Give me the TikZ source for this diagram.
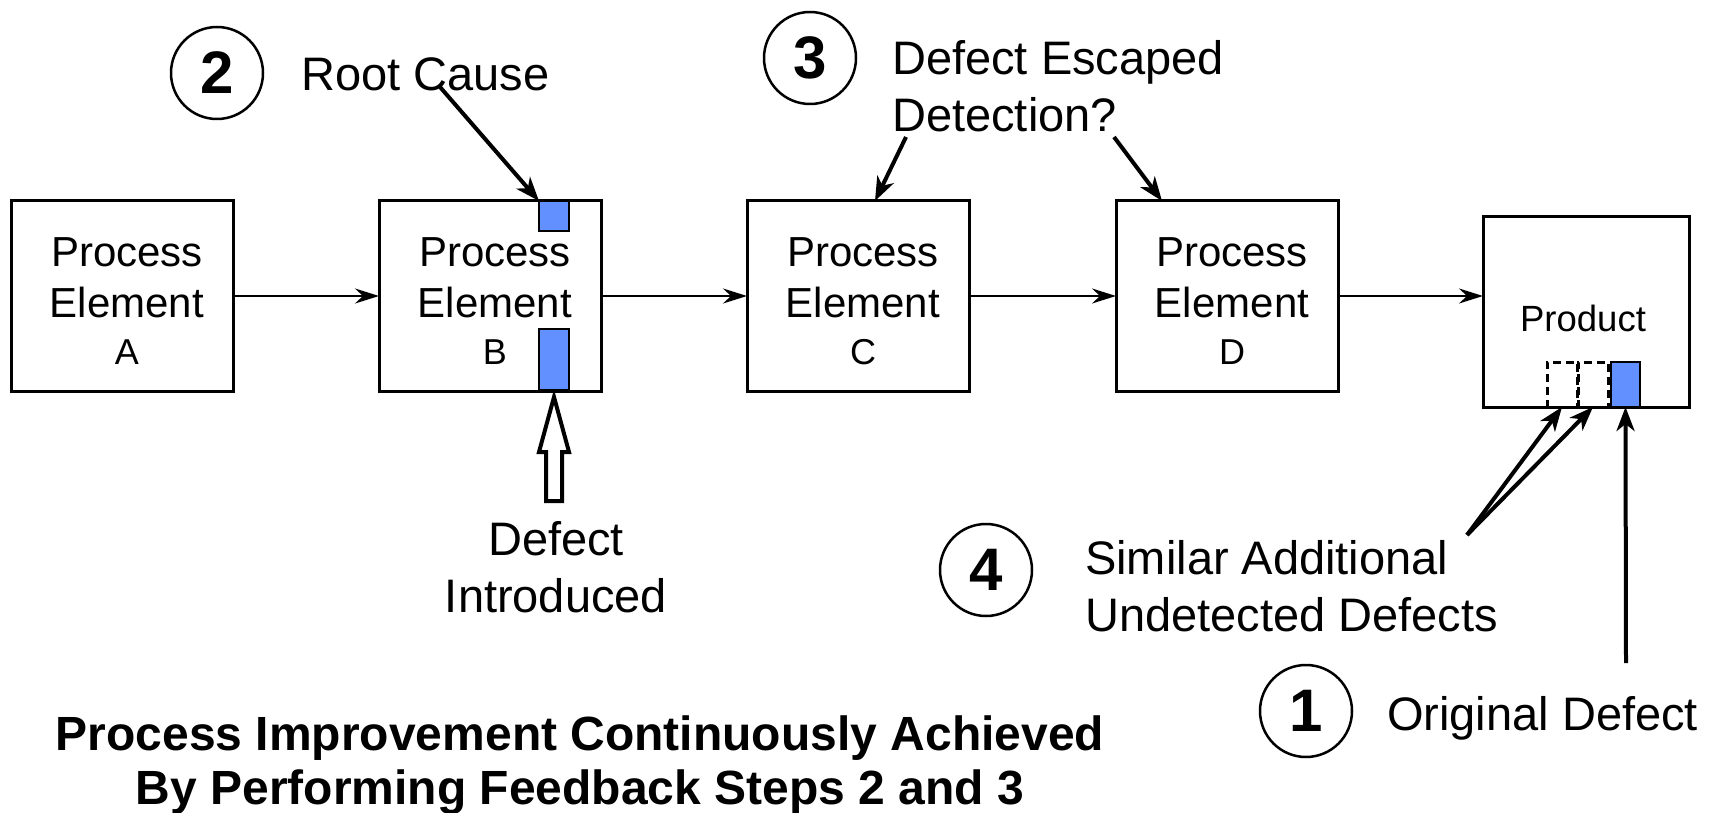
\documentclass[tikz,border=0pt]{standalone}
\usepackage{fontspec}
\setmainfont{Liberation Sans}
\usetikzlibrary{arrows.meta,calc}
\definecolor{defblue}{RGB}{98,144,255}
\begin{document}
\begin{tikzpicture}[x=1pt,y=-1pt,
  pbox/.style={draw, line width=3pt, minimum width=222pt, minimum height=190pt, inner sep=0pt, outer sep=0pt, fill=white},
  prodbox/.style={draw, line width=3pt, minimum width=206pt, minimum height=190pt, inner sep=0pt, outer sep=0pt, fill=white},
  bluerect/.style={draw, line width=2.5pt, fill=defblue, inner sep=0pt, outer sep=0pt},
  dashrect/.style={draw, line width=3pt, dash pattern=on 8pt off 5pt, inner sep=0pt, outer sep=0pt},
  boxtxt/.style={inner sep=0pt, anchor=base, font=\fontsize{42}{50}\selectfont},
  lettxt/.style={inner sep=0pt, anchor=base, font=\fontsize{36}{42}\selectfont},
  lbl/.style={inner sep=0pt, anchor=base west, font=\fontsize{47}{56}\selectfont},
  clbl/.style={inner sep=0pt, anchor=base, font=\fontsize{47}{56}\selectfont},
  titletxt/.style={inner sep=0pt, anchor=base, font=\fontsize{48}{56}\selectfont\bfseries},
  stepcirc/.style={draw, circle, line width=2.5pt, minimum size=92pt, inner sep=0pt, font=\fontsize{60}{70}\selectfont\bfseries},
  thinarrow/.style={line width=2pt, -{Stealth[length=24pt,width=15pt,inset=8pt]}},
  thickarrow/.style={line width=4pt, -{Stealth[length=24pt,width=18pt,inset=7pt]}},
  hollow/.style={line width=4pt, fill=white, line join=miter}
]
\useasboundingbox (0,0) rectangle (1717,813);

% process elements
\foreach \n/\cx in {A/122, B/490, C/858, D/1227} {
  \node[pbox] (\n) at (\cx,296) {};
  \node[boxtxt] (\n-l1) at (\cx+5,267) {Process};
  \node[boxtxt] (\n-l2) at (\cx+5,317) {Element};
  \node[lettxt] (\n-l3) at (\cx+5,364) {\n};
}

% product
\node[prodbox] (P) at (1586,312) {};
\node[inner sep=0pt, anchor=base, font=\fontsize{36.5}{44}\selectfont] (Ptxt) at (1583,331) {Product};
\node[dashrect, minimum width=30pt, minimum height=45pt] (d1) at (1562,384.5) {};
\node[dashrect, minimum width=30pt, minimum height=45pt] (d2) at (1593,384.5) {};
\node[bluerect, minimum width=29pt, minimum height=45pt] (bP) at (1625.5,384.5) {};

% defect marks in B
\node[bluerect, minimum width=30pt, minimum height=30pt] (bT) at (554,216) {};
\node[bluerect, minimum width=30pt, minimum height=61pt] (bB) at (554,359.5) {};

% flow arrows
\draw[thinarrow] (A.east) -- (B.west);
\draw[thinarrow] (B.east) -- (C.west);
\draw[thinarrow] (C.east) -- (D.west);
\draw[thinarrow] (D.east) -- (P.west |- D.east);

% step 2
\node[stepcirc] (c2) at (217,73) {2};
\node[lbl] (rc) at (301,91) {Root Cause};
\coordinate (rcs) at (440,87);
\draw[thickarrow] (rcs) -- (bT.north west);

% step 3
\node[stepcirc] (c3) at (810,58) {3};
\node[lbl] (de1) at (892,75) {Defect Escaped};
\node[lbl] (de2) at (892,132) {Detection?};
\coordinate (ds1) at (906,137);
\coordinate (ds2) at (1114,137);
\draw[thickarrow] (ds1) -- ($(C.north west)+(128,0)$);
\draw[thickarrow] (ds2) -- ($(D.north west)+(46,0)$);

% defect introduced
\draw[hollow] (bB.south) ++(0,7) -- ++(15,55) -- ++(-7,0) -- ++(0,49) -- ++(-16,0) -- ++(0,-49) -- ++(-7,0) -- cycle;
\node[clbl] (di1) at (556,555) {Defect};
\node[clbl] (di2) at (556,612) {Introduced};

% step 4
\node[stepcirc] (c4) at (986,570) {4};
\node[lbl] (sa1) at (1085,574) {Similar Additional};
\node[lbl] (sa2) at (1085,631) {Undetected Defects};
\coordinate (ss) at (1467,535);
\draw[thickarrow] (ss) -- (d1.south);
\draw[thickarrow] (ss) -- (d2.south);

% step 1
\node[stepcirc] (c1) at (1306,711) {1};
\node[lbl] (od) at (1387,730) {Original Defect};
\coordinate (os) at (1626,663);
\draw[thickarrow] (os) -- (bP.south);

% title
\node[titletxt] (t1) at (580,750) {Process Improvement Continuously Achieved};
\node[titletxt] (t2) at (580,804) {By Performing Feedback Steps 2 and 3};
\end{tikzpicture}
\end{document}
